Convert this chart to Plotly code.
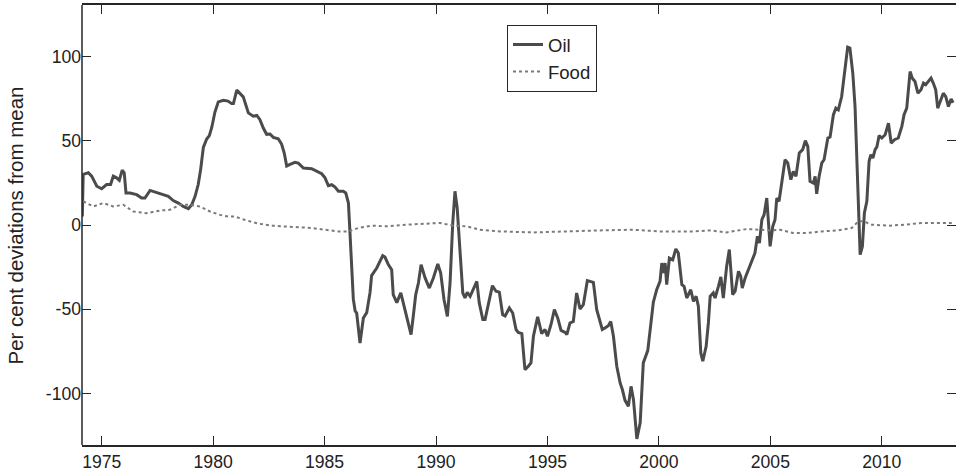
import plotly.graph_objects as go

# ---- data ----
oil_year = [1974.13, 1974.17, 1974.40, 1974.55, 1974.78, 1975.00, 1975.22, 1975.40, 1975.52, 1975.67,
            1975.79, 1975.92, 1976.01, 1976.09, 1976.27, 1976.57, 1976.79, 1976.94, 1977.17, 1977.39,
            1977.62, 1977.84, 1977.99, 1978.21, 1978.44, 1978.66, 1978.89, 1979.04, 1979.19, 1979.33,
            1979.44, 1979.56, 1979.71, 1979.83, 1979.94, 1980.08, 1980.23, 1980.46, 1980.67, 1980.83,
            1980.91, 1981.06, 1981.21, 1981.35, 1981.58, 1981.80, 1981.96, 1982.10, 1982.25, 1982.40,
            1982.55, 1982.70, 1982.92, 1983.07, 1983.19, 1983.30, 1983.45, 1983.67, 1983.82, 1984.05,
            1984.42, 1984.65, 1984.87, 1985.02, 1985.17, 1985.32, 1985.47, 1985.62, 1985.84, 1985.95,
            1986.07, 1986.14, 1986.22, 1986.29, 1986.37, 1986.44, 1986.59, 1986.74, 1986.89, 1987.04,
            1987.11, 1987.34, 1987.61, 1987.71, 1987.86, 1988.01, 1988.08, 1988.24, 1988.42, 1988.61,
            1988.76, 1988.88, 1988.98, 1989.09, 1989.21, 1989.33, 1989.51, 1989.70, 1989.88, 1990.08,
            1990.21, 1990.36, 1990.51, 1990.63, 1990.75, 1990.85, 1990.95, 1991.08, 1991.20, 1991.30,
            1991.40, 1991.53, 1991.67, 1991.83, 1991.94, 1992.10, 1992.20, 1992.35, 1992.53, 1992.69,
            1992.84, 1992.99, 1993.10, 1993.29, 1993.44, 1993.59, 1993.69, 1993.85, 1993.99, 1994.14,
            1994.26, 1994.37, 1994.56, 1994.74, 1994.89, 1995.00, 1995.16, 1995.31, 1995.46, 1995.61,
            1995.79, 1995.87, 1996.01, 1996.16, 1996.31, 1996.46, 1996.61, 1996.79, 1996.91, 1997.06,
            1997.21, 1997.36, 1997.46, 1997.58, 1997.73, 1997.84, 1997.96, 1998.11, 1998.26, 1998.36,
            1998.48, 1998.63, 1998.75, 1998.86, 1999.01, 1999.16, 1999.30, 1999.50, 1999.60, 1999.75,
            1999.90, 2000.05, 2000.13, 2000.20, 2000.28, 2000.35, 2000.47, 2000.62, 2000.76, 2000.87,
            2001.03, 2001.13, 2001.25, 2001.43, 2001.55, 2001.67, 2001.77, 2001.88, 2001.97, 2002.12,
            2002.22, 2002.30, 2002.44, 2002.52, 2002.67, 2002.78, 2002.89, 2003.04, 2003.16, 2003.31,
            2003.42, 2003.57, 2003.67, 2003.74, 2003.87, 2004.01, 2004.17, 2004.31, 2004.42, 2004.51,
            2004.62, 2004.72, 2004.84, 2004.91, 2004.99, 2005.11, 2005.21, 2005.29, 2005.39, 2005.51,
            2005.66, 2005.78, 2005.92, 2006.03, 2006.15, 2006.30, 2006.45, 2006.57, 2006.68, 2006.78,
            2006.93, 2007.01, 2007.08, 2007.19, 2007.31, 2007.41, 2007.58, 2007.68, 2007.83, 2007.94,
            2008.05, 2008.20, 2008.35, 2008.47, 2008.57, 2008.70, 2008.80, 2008.88, 2008.95, 2009.03,
            2009.13, 2009.22, 2009.33, 2009.43, 2009.51, 2009.60, 2009.70, 2009.78, 2009.88, 2010.00,
            2010.15, 2010.30, 2010.42, 2010.57, 2010.74, 2010.90, 2011.00, 2011.12, 2011.27, 2011.37,
            2011.49, 2011.62, 2011.76, 2011.87, 2011.97, 2012.09, 2012.21, 2012.31, 2012.42, 2012.51,
            2012.66, 2012.76, 2012.87, 2012.99, 2013.11, 2013.20]
oil_value = [5, 30, 31, 29, 23, 21.5, 24, 24, 29, 28,
             26.5, 32.5, 31, 19, 19, 18, 16, 16, 20.5, 19.5,
             18.5, 17.5, 17, 14.5, 13, 11, 9.7, 12, 17, 24,
             33, 46, 51, 53, 58, 67, 73, 74, 73.5, 72,
             72, 80, 78, 76, 66.5, 64.5, 65, 62.5, 57.5, 53.8,
             54, 52, 51.2, 48, 42.7, 35, 36, 37.2, 36.7, 33.8,
             33.4, 31.8, 30.4, 28, 23.3, 23.9, 22.5, 20, 20, 19,
             13, -4.7, -28, -44, -51, -52.2, -70, -55.2, -52, -40,
             -30, -25.5, -18.2, -19, -23.5, -26.5, -41.3, -46, -40.3, -50,
             -58, -65, -54, -41.3, -34.4, -23.5, -31.4, -37.4, -31.4, -23.1,
             -28.5, -44.3, -54.2, -34.4, 1.2, 20, 10, -14.6, -40.3, -43.3,
             -40, -42.3, -38.4, -33.4, -46.2, -56.1, -56.1, -46.2, -36, -39.3,
             -39.8, -53.2, -54, -49.2, -52.2, -62, -63.7, -64.4, -85.8, -83.8,
             -81.8, -66, -54.5, -64.4, -62, -66, -59, -50.2, -55.1, -62.5,
             -63.7, -65, -58.1, -57.2, -40.3, -49.8, -47.3, -33, -33.4, -34,
             -50.2, -57.2, -62, -61.1, -59.7, -57.2, -66, -83.8, -93.7, -97.6,
             -104, -107.5, -95.7, -103.6, -126.9, -117.4, -81.8, -74.5, -62.5, -45.8,
             -38.4, -33.4, -22.6, -28.5, -22.6, -35.4, -19.6, -20.6, -14.2, -16.6,
             -35.4, -36.4, -43.3, -38.4, -45.3, -42.3, -48.2, -75.9, -80.8, -72,
             -58.1, -42.3, -40.3, -43.3, -36.4, -30.8, -43.3, -24.5, -14.6, -41.3,
             -39.3, -27.5, -30.4, -37.4, -31.4, -26.5, -21.5, -16.6, -6.7, -10.7,
             3.2, 6.1, 16, -0.8, -12.7, -0.8, 3.2, 16, 14, 24.9,
             38.7, 36.8, 26.9, 31.8, 28.9, 42.7, 44.7, 50, 46.6, 25.9,
             24.9, 28.9, 18.5, 28.9, 36.8, 38.7, 51.6, 52.2, 65.4, 69.3,
             68.3, 76.2, 92, 105.5, 105, 90, 70.3, 38.7, 3.2, -17.6,
             -12.7, 7.1, 14, 37.8, 41.7, 39.7, 44.7, 46.3, 53, 51.6,
             53.5, 60.4, 48.6, 50.6, 51.6, 58.5, 65.4, 69.3, 91, 87.1,
             85.1, 78.2, 80.2, 84.2, 83.2, 85.1, 87.1, 84.2, 80.2, 69.3,
             74.3, 78.2, 76.2, 70.3, 74.7, 72.5]

food_year = [1974.17, 1974.62, 1975.07, 1975.52, 1975.97, 1976.42, 1977.02, 1977.62, 1978.06, 1978.51,
             1978.96, 1979.41, 1979.86, 1980.31, 1980.67, 1980.98, 1981.43, 1982.03, 1982.63, 1983.22,
             1983.82, 1984.42, 1985.02, 1985.62, 1986.07, 1986.51, 1987.11, 1987.79, 1988.69, 1989.28,
             1990.18, 1990.78, 1991.38, 1991.97, 1992.87, 1994.37, 1995.87, 1996.61, 1997.36, 1998.85,
             2000.05, 2001.55, 2002.30, 2003.04, 2003.94, 2004.54, 2004.99, 2005.43, 2006.03, 2006.63,
             2007.31, 2008.05, 2008.65, 2008.95, 2009.17, 2009.55, 2010.30, 2011.05, 2011.79, 2012.53,
             2013.14]
food_value = [14, 11, 13, 11, 12, 8, 7, 8.6, 9, 12,
              12, 11, 8, 6, 5, 5, 3, 0.8, -0.4, -0.8,
              -1.2, -1.8, -2.8, -3.8, -3.8, -1.8, -0.4, -0.8, 0.2, 0.5,
              1.2, -0.4, -0.8, -2.8, -3.8, -4.4, -3.8, -3.2, -3.2, -2.8,
              -3.8, -3.8, -3.2, -4.4, -2.4, -2.8, -3.2, -2.8, -4.8, -4.8,
              -3.8, -3.2, -1.8, 2.2, 2.2, 0.2, -0.4, 0.2, 1.2, 1.2,
              1.2]

x_ticks = [1975, 1980, 1985, 1990, 1995, 2000, 2005, 2010]
y_ticks = [-100, -50, 0, 50, 100]
y_tick_labels = ["-100", "-50", "0", "50", "100"]

FONT = "Liberation Sans, Arial, sans-serif"
AX = "#262626"
TXT = "#222222"

fig = go.Figure()
fig.add_trace(go.Scatter(x=oil_year, y=oil_value, mode="lines", name="Oil",
                         line=dict(color="#4b4b4b", width=3)))
fig.add_trace(go.Scatter(x=food_year, y=food_value, mode="lines", name="Food",
                         line=dict(color="#7a7a7a", width=2, dash="dot")))

fig.update_layout(
    width=956, height=473,
    margin=dict(l=82, r=0, t=5, b=28, pad=0),
    paper_bgcolor="white", plot_bgcolor="white",
    font=dict(family=FONT, size=17.6, color=TXT),
    showlegend=True,
    legend=dict(x=(507 - 82) / 874, y=(445 - 25) / 440, xanchor="left", yanchor="top",
                bordercolor=AX, borderwidth=1, bgcolor="white",
                font=dict(family=FONT, size=18.5, color=TXT),
                tracegroupgap=0),
    xaxis=dict(range=[1974.116, 2013.33], tickvals=x_ticks, showgrid=False, zeroline=False,
               showline=True, linecolor=AX, linewidth=1.5, mirror="ticks",
               ticks="inside", ticklen=9, tickwidth=1.2, tickcolor=AX),
    yaxis=dict(range=[-130.5, 130.5], tickvals=y_ticks, ticktext=y_tick_labels,
               showgrid=False, zeroline=False,
               showline=False, mirror="ticks",
               ticks="inside", ticklen=9, tickwidth=1.2, tickcolor=AX),
    shapes=[dict(type="line", xref="paper", yref="paper", x0=0, x1=0, y0=0, y1=1,
                 line=dict(color=AX, width=1.5))],
    annotations=[dict(text="Per cent deviations from mean", textangle=-90,
                      xref="paper", yref="paper", x=(15.5 - 82) / 874, y=(445 - 226) / 440,
                      xanchor="center", yanchor="middle", showarrow=False,
                      font=dict(family=FONT, size=20.5, color=TXT))],
)

fig.write_html("out.html")
